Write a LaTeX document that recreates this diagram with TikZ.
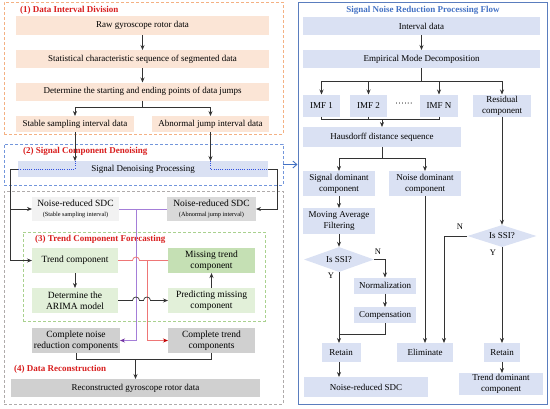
\documentclass[tikz,border=0pt]{standalone}
\usepackage{fontspec}
\setmainfont{Liberation Serif}
\usetikzlibrary{arrows.meta,shapes.geometric,calc}
\definecolor{peach}{HTML}{FBE5D6}
\definecolor{lav}{HTML}{DAE1F3}
\definecolor{lgray}{HTML}{F2F2F2}
\definecolor{mgray}{HTML}{D9D9D9}
\definecolor{dgray}{HTML}{D0D0D0}
\definecolor{lgreen}{HTML}{E2F0D9}
\definecolor{mgreen}{HTML}{C5E0B4}
\definecolor{labred}{HTML}{D81E1E}
\definecolor{odash}{HTML}{F4B183}
\definecolor{bdash}{HTML}{7396DB}
\definecolor{gdash}{HTML}{AFABAB}
\definecolor{grdash}{HTML}{A9D18E}
\definecolor{pblue}{HTML}{5A7DBE}
\definecolor{ttlblue}{HTML}{4472C4}
\definecolor{purp}{HTML}{A47ED8}
\definecolor{purpd}{HTML}{7030A0}
\definecolor{redl}{HTML}{EE7676}
\definecolor{redd}{HTML}{C00000}
\definecolor{lnc}{HTML}{333333}
\definecolor{dotb}{HTML}{3050E0}
\tikzset{
  box/.style={inner sep=1pt, outer sep=0pt, align=center, font=\fontsize{9}{11}\selectfont},
  lab/.style={inner sep=0pt, anchor=west, text=labred, font=\bfseries\fontsize{9}{11}\selectfont},
  frame/.style={draw, dashed, dash pattern=on 3pt off 2pt, line width=0.8pt, inner sep=0pt, outer sep=0pt},
  conn/.style={draw=lnc, line width=0.7pt},
  arr/.style={conn, -{Stealth[length=5pt,width=4pt]}},
  dia/.style={diamond, fill=lav, inner sep=0pt, aspect=2.8, font=\fontsize{9}{11}\selectfont},
  yn/.style={inner sep=0pt, font=\fontsize{8.5}{10}\selectfont},
  dotl/.style={draw=dotb, line width=0.8pt, dash pattern=on 1pt off 1.2pt}
}
\begin{document}
\begin{tikzpicture}[x=1pt,y=-1pt]
\useasboundingbox (0,0) rectangle (550,408);
% frames
\node[frame, draw=odash, minimum width=279pt, minimum height=132pt] (oframe) at (143.5,68) {};
\node[frame, draw=bdash, minimum width=279pt, minimum height=41pt] (bframe) at (143.5,164.5) {};
\node[frame, draw=gdash, minimum width=279pt, minimum height=213pt] (gframe) at (143.5,297.5) {};
\node[frame, draw=grdash, minimum width=242pt, minimum height=89pt] (grframe) at (144,276.5) {};
\node[draw=pblue, line width=1pt, inner sep=0pt, minimum width=249pt, minimum height=402pt] (panel) at (422.5,203) {};
% labels
\node[lab] (l1) at (20,10) {(1) Data Interval Division};
\node[lab] (l2) at (23,151) {(2) Signal Component Denoising};
\node[lab] (l3) at (35,239) {(3) Trend Component Forecasting};
\node[lab] (l4) at (14,369) {(4) Data Reconstruction};
\node[inner sep=0pt, text=ttlblue, font=\bfseries\fontsize{9}{11}\selectfont] (ttl) at (423,10) {Signal Noise Reduction Processing Flow};
% left boxes
\node[box, fill=peach, minimum width=253pt, minimum height=19pt] (raw) at (142.5,25.5) {Raw gyroscope rotor data};
\node[box, fill=peach, minimum width=253pt, minimum height=18pt] (stat) at (142.5,59) {Statistical characteristic sequence of segmented data};
\node[box, fill=peach, minimum width=253pt, minimum height=18pt] (det) at (142.5,91.5) {Determine the starting and ending points of data jumps};
\node[box, fill=peach, minimum width=118pt, minimum height=16pt] (stable) at (75,124) {Stable sampling interval data};
\node[box, fill=peach, minimum width=117pt, minimum height=16pt] (abn) at (210.5,124) {Abnormal jump interval data};
\node[box, fill=lav, minimum width=250pt, minimum height=16pt] (sdp) at (143,169) {Signal Denoising Processing};
\node[box, fill=lgray, minimum width=87pt, minimum height=24pt, font=\fontsize{9.5}{12}\selectfont] (nrs1) at (75.5,209) {Noise-reduced SDC\\[-2pt]{\fontsize{6.3}{8}\selectfont(Stable sampling interval)}};
\node[box, fill=mgray, minimum width=89pt, minimum height=24pt, font=\fontsize{9.5}{12}\selectfont] (nrs2) at (211.5,209) {Noise-reduced SDC\\[-2pt]{\fontsize{6.3}{8}\selectfont(Abnormal jump interval)}};
\node[box, fill=lgreen, minimum width=86pt, minimum height=25pt, font=\fontsize{9.5}{11}\selectfont] (trend) at (75,260.5) {Trend component};
\node[box, fill=mgreen, minimum width=87pt, minimum height=25pt, font=\fontsize{9.5}{11}\selectfont] (miss) at (211.5,260.5) {Missing trend\\component};
\node[box, fill=lgreen, minimum width=86pt, minimum height=25pt, font=\fontsize{9.5}{11}\selectfont] (arima) at (75,300.5) {Determine the\\ARIMA model};
\node[box, fill=lgreen, minimum width=87pt, minimum height=25pt, font=\fontsize{9.5}{11}\selectfont] (pred) at (211.5,300.5) {Predicting missing\\component};
\node[box, fill=dgray, minimum width=88pt, minimum height=25pt, font=\fontsize{9.5}{11}\selectfont] (cnr) at (76,340.5) {Complete noise\\reduction components};
\node[box, fill=dgray, minimum width=87pt, minimum height=25pt, font=\fontsize{9.5}{11}\selectfont] (ctc) at (211.5,340.5) {Complete trend\\components};
\node[box, fill=dgray, minimum width=249pt, minimum height=18pt] (recon) at (135.5,388) {Reconstructed gyroscope rotor data};
% left connectors
\draw[arr] (raw) -- (stat);
\draw[arr] (stat) -- (det);
\coordinate (b1) at (142.5,107);
\draw[conn] (det) -- (b1);
\draw[arr] (b1) -| (stable);
\draw[arr] (b1) -| (abn);
\draw[arr] (stable) -- (stable |- sdp.north);
\draw[arr] (abn) -- (abn |- sdp.north);
\draw[dotl] (stable |- sdp.north) |- (sdp.west);
\draw[dotl] (abn |- sdp.north) |- (sdp.east);
\coordinate (lx) at (10,169);
\coordinate (rx) at (277,169);
\draw[arr] (sdp.west) -- (lx) |- (trend);
\draw[arr] (lx |- nrs1) -- (nrs1);
\draw[arr] (sdp.east) -- (rx) |- (nrs2);
\coordinate (px) at (136,209);
\coordinate (rdx) at (147,260.5);
\draw[draw=purp, line width=0.8pt] (nrs1) -- (nrs2);
\draw[draw=purp, line width=0.8pt, -{Stealth[length=5pt,width=4pt,color=purpd]}] (px) |- (cnr);
\draw[draw=redl, line width=0.8pt] (trend.east) -- ($(px |- trend.east)+(-3.5,0)$) arc[start angle=180,end angle=0,radius=3.5pt] -- (miss.west);
\draw[draw=redl, line width=0.8pt, -{Stealth[length=5pt,width=4pt,color=redd]}] (rdx) |- (ctc);
\draw[arr] (trend) -- (arima);
\draw[arr] (pred) -- (miss);
\draw[arr] (arima.east) -- ($(px |- arima.east)+(-3.5,0)$) arc[start angle=180,end angle=0,radius=3.5pt] -- ($(rdx |- arima.east)+(-3.5,0)$) arc[start angle=180,end angle=0,radius=3.5pt] -- (pred.west);
\coordinate (bj) at (135.5,359);
\draw[conn] (cnr.south) -- (cnr.south |- bj) -| (ctc.south);
\draw[arr] (bj) -- (recon);
\draw[draw=ttlblue, line width=0.9pt, -{Straight Barb[length=4pt,width=7pt]}] (bframe.east) -- (panel.west |- bframe.east);
% right boxes
\node[box, fill=lav, minimum width=237pt, minimum height=18pt] (intv) at (421.5,26) {Interval data};
\node[box, fill=lav, minimum width=237pt, minimum height=18pt] (emd) at (421.5,59) {Empirical Mode Decomposition};
\node[box, fill=lav, minimum width=37pt, minimum height=22pt] (imf1) at (321.5,105.5) {IMF 1};
\node[box, fill=lav, minimum width=37pt, minimum height=22pt] (imf2) at (368.5,105.5) {IMF 2};
\node[box] (dots) at (404,104.5) {\textperiodcentered\textperiodcentered\textperiodcentered\textperiodcentered\textperiodcentered\textperiodcentered};
\node[box, fill=lav, minimum width=38pt, minimum height=22pt] (imfn) at (439,105.5) {IMF N};
\node[box, fill=lav, minimum width=58pt, minimum height=22pt] (resid) at (502,105.5) {Residual\\component};
\node[box, fill=lav, minimum width=158pt, minimum height=20pt] (haus) at (382,137) {Hausdorff distance sequence};
\node[box, fill=lav, minimum width=72pt, minimum height=25pt] (sig) at (339,183.5) {Signal dominant\\component};
\node[box, fill=lav, minimum width=72pt, minimum height=25pt] (noise) at (425,183.5) {Noise dominant\\component};
\node[box, fill=lav, minimum width=72pt, minimum height=26pt] (maf) at (339,221) {Moving Average\\Filtering};
\node[dia, minimum width=70pt, minimum height=25pt] (dia1) at (339,259.5) {Is SSI?};
\node[box, fill=lav, minimum width=62pt, minimum height=16pt] (norm) at (385,285.5) {Normalization};
\node[box, fill=lav, minimum width=62pt, minimum height=16pt] (comp) at (385,315) {Compensation};
\node[box, fill=lav, minimum width=39pt, minimum height=19pt] (retL) at (341,352.5) {Retain};
\node[box, fill=lav, minimum width=124pt, minimum height=20pt] (nrsR) at (366,387) {Noise-reduced SDC};
\node[box, fill=lav, minimum width=56pt, minimum height=19pt] (elim) at (425,352.5) {Eliminate};
\node[dia, minimum width=69pt, minimum height=22pt] (dia2) at (502,236) {Is SSI?};
\node[box, fill=lav, minimum width=36pt, minimum height=19pt] (retR) at (502,352.5) {Retain};
\node[box, fill=lav, minimum width=84pt, minimum height=22pt] (tdom) at (501,384) {Trend dominant\\component};
\node[yn] (n1) at (378,252) {N};
\node[yn] (y1) at (331,276) {Y};
\node[yn] (n2l) at (460,227) {N};
\node[yn] (y2) at (493,253) {Y};
% right connectors
\draw[arr] (intv) -- (emd);
\coordinate (eb) at (421.5,81);
\draw[conn] (emd) -- (eb);
\draw[arr] (eb) -| (imf1);
\draw[arr] (eb) -| (imf2);
\draw[arr] (eb) -| (imfn);
\draw[arr] (eb) -| (resid);
\coordinate (hb) at (382,119.5);
\draw[conn] (imf1.south) |- (hb);
\draw[conn] (imf2.south) |- (hb);
\draw[conn] (imfn.south) |- (hb);
\draw[arr] (hb) -- (haus);
\coordinate (hs) at (382,158);
\draw[conn] (haus) -- (hs);
\draw[arr] (hs) -| (sig);
\draw[arr] (hs) -| (noise);
\draw[arr] (sig) -- (maf);
\draw[arr] (maf) -- (dia1);
\draw[arr] (dia1.east) -| (norm);
\draw[arr] (norm) -- (comp);
\draw[arr] (dia1.south) -- (dia1.south |- retL.north);
\coordinate (cj) at (339,334);
\draw[conn] (comp.south) |- (cj);
\draw[arr] (retL.south -| dia1.south) -- (dia1.south |- nrsR.north);
\draw[arr] (noise) -- (noise |- elim.north);
\coordinate (n2) at (444,236);
\draw[arr] (dia2.west) -- (n2) -- (n2 |- elim.north);
\draw[arr] (resid) -- (dia2);
\draw[arr] (dia2) -- (retR);
\draw[arr] (retR) -- (retR |- tdom.north);
\end{tikzpicture}
\end{document}
